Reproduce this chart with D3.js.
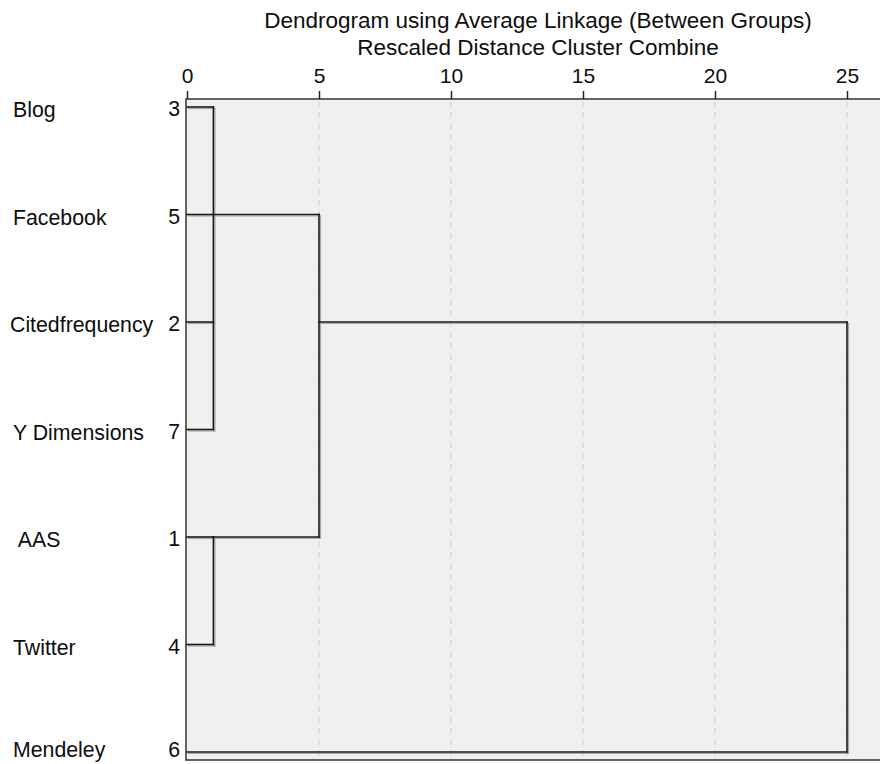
<!DOCTYPE html>
<html>
<head>
<meta charset="utf-8">
<script src="https://cdn.jsdelivr.net/npm/d3@7"></script>
<style>
  body { margin: 0; background: #fff; }
  text { font-family: "Liberation Sans", Arial, sans-serif; fill: #0d0d0d; }
</style>
</head>
<body>
<svg width="880" height="764"></svg>
<script>
// leaves, top to bottom
var names = ["Blog", "Facebook", "Citedfrequency", "Y Dimensions", " AAS", "Twitter", "Mendeley"];
var caseNums = [3, 5, 2, 7, 1, 4, 6];

// merges: kids are leaf rows (numbers) or earlier merge ids, dist is the rescaled distance,
// row is where the joined cluster's line leaves to the right
var mergeIds = ["A", "B", "C", "D"];
var mergeKids = [[0, 1, 2, 3], [4, 5], ["A", "B"], ["C", 6]];
var mergeDist = [1.0, 1.0, 5.0, 25.0];
var mergeRow = [1, 4, 2, 2];

var tickVals = [0, 5, 10, 15, 20, 25];
var titleLines = ["Dendrogram using Average Linkage (Between Groups)", "Rescaled Distance Cluster Combine"];

var svg = d3.select("svg"),
    width = +svg.attr("width"),
    height = +svg.attr("height");

var panel = {left: 186, top: 99, bottom: 760};

var x = d3.scaleLinear().domain([0, 25]).range([187, 847]);
var y = d3.scalePoint().domain(d3.range(names.length)).range([107, 752]);

// title
svg.append("g").selectAll("text")
    .data(titleLines)
    .join("text")
      .attr("x", 538)
      .attr("y", (d, i) => 28 + i * 27)
      .attr("text-anchor", "middle")
      .attr("font-size", "22.5px")
      .text(d => d);

// panel background
svg.append("rect")
    .attr("x", panel.left)
    .attr("y", panel.top)
    .attr("width", width - panel.left + 20)
    .attr("height", panel.bottom - panel.top)
    .attr("fill", "#f0f0f0")
    .attr("stroke", "#333")
    .attr("stroke-width", 1.5);

// dashed grid
svg.append("g")
    .selectAll("line")
    .data(tickVals.slice(1))
    .join("line")
      .attr("x1", d => x(d)).attr("x2", d => x(d))
      .attr("y1", panel.top + 2).attr("y2", panel.bottom - 1)
      .attr("stroke", "#cfcfcf")
      .attr("stroke-dasharray", "6,5");

// top axis
var axis = svg.append("g")
    .attr("transform", "translate(0," + panel.top + ")")
    .call(d3.axisTop(x).tickValues(tickVals).tickSize(8).tickPadding(8));
axis.select(".domain").remove();
axis.selectAll(".tick line").attr("stroke", "#222").attr("stroke-width", 1.5);
axis.selectAll(".tick text")
    .attr("font-size", "21px")
    .attr("font-family", "Liberation Sans, Arial, sans-serif")
    .attr("fill", "#0d0d0d");

// build segments from the merges
var pos = {};   // id -> {row, dist}
var segs = [];
mergeIds.forEach(function(id, i) {
    var rows = [];
    mergeKids[i].forEach(function(k) {
        var p = (typeof k === "number") ? {row: k, dist: 0} : pos[k];
        rows.push(p.row);
        segs.push({x1: p.dist, x2: mergeDist[i], y1: p.row, y2: p.row});
    });
    segs.push({x1: mergeDist[i], x2: mergeDist[i], y1: d3.min(rows), y2: d3.max(rows)});
    pos[id] = {row: mergeRow[i], dist: mergeDist[i]};
});

var tree = svg.append("g").attr("fill", "none").attr("stroke-linecap", "square");

// soft grey shadow under the lines
tree.append("g")
    .attr("stroke", "#a8a8a8")
    .attr("stroke-width", 1.2)
    .selectAll("line")
    .data(segs)
    .join("line")
      .attr("x1", d => x(d.x1) + 1.5).attr("x2", d => x(d.x2) + 1.5)
      .attr("y1", d => y(d.y1) + 1.5).attr("y2", d => y(d.y2) + 1.5);

tree.append("g")
    .attr("stroke", "#1a1a1a")
    .attr("stroke-width", 1.6)
    .selectAll("line")
    .data(segs)
    .join("line")
      .attr("x1", d => x(d.x1)).attr("x2", d => x(d.x2))
      .attr("y1", d => y(d.y1)).attr("y2", d => y(d.y2));

// leaf labels (last row pulled up a bit so it stays inside the picture)
var lab = svg.append("g").selectAll("g")
    .data(names)
    .join("g")
      .attr("transform", (d, i) => "translate(0," + y(i) + ")");

lab.append("text")
    .attr("x", (d, i) => i == 2 ? 10 : 13)
    .attr("y", (d, i) => Math.min(10, height - 7 - y(i)))
    .attr("font-size", "21.3px")
    .style("white-space", "pre")
    .text(d => d);

lab.append("text")
    .attr("x", 180)
    .attr("y", (d, i) => Math.min(9, height - 7 - y(i)))
    .attr("text-anchor", "end")
    .attr("font-size", "21.3px")
    .text((d, i) => caseNums[i]);
</script>
</body>
</html>
